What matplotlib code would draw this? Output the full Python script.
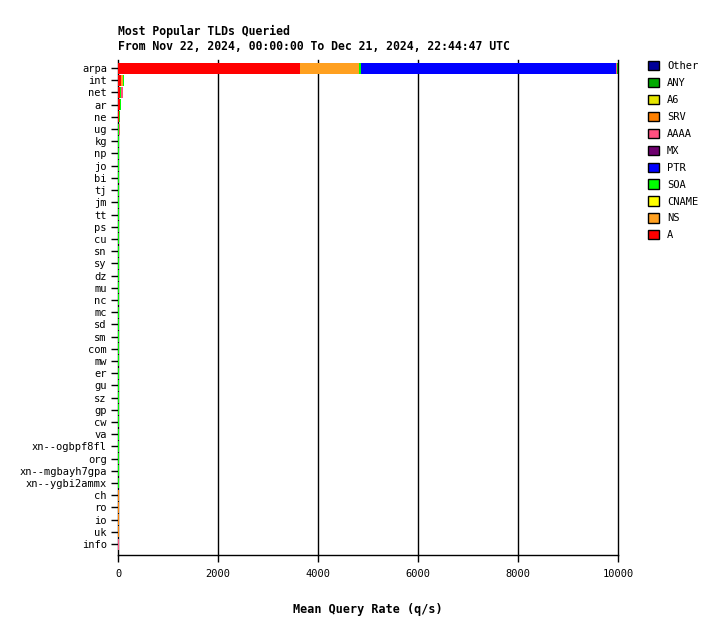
import numpy as np
import matplotlib
matplotlib.use("Agg")
import matplotlib.pyplot as plt
from matplotlib.patches import Patch

plt.rcParams["font.family"] = "DejaVu Sans Mono"

TLDS = ["arpa", "int", "net", "ar", "ne", "ug", "kg", "np", "jo", "bi", "tj", "jm",
        "tt", "ps", "cu", "sn", "sy", "dz", "mu", "nc", "mc", "sd", "sm", "com",
        "mw", "er", "gu", "sz", "gp", "cw", "va", "xn--ogbpf8fl", "org",
        "xn--mgbayh7gpa", "xn--ygbi2ammx", "ch", "ro", "io", "uk", "info"]

# query types in stacking order (legend shows them reversed)
QTYPES = ["A", "NS", "CNAME", "SOA", "PTR", "MX", "AAAA", "SRV", "A6", "ANY", "Other"]
COLORS = {"A": "#ff0000", "NS": "#ffa020", "CNAME": "#ffff00", "SOA": "#00ff00",
          "PTR": "#0000ff", "MX": "#6f006f", "AAAA": "#ff5080", "SRV": "#ff8000",
          "A6": "#e5e500", "ANY": "#00aa00", "Other": "#000099"}

n = len(TLDS)
A = [3640, 50, 40, 40, 20, 0] + [0] * (n - 6)
NS = [1186, 40, 0, 0, 0, 0] + [0] * (n - 6)
CNAME = [0, 10, 0, 0, 0, 0] + [0] * (n - 6)
SOA = [30, 20, 20, 20, 10, 10] + [15] * 29 + [0] * 5
PTR = [5100] + [0] * (n - 1)
MX = [0] * n
AAAA = [20, 0, 40, 0, 0, 20] + [0] * 33 + [10]
SRV = [0] * 35 + [10, 10, 10, 10, 0]
A6 = [0] * n
ANY = [20] + [0] * (n - 1)
OTHER = [0] * n

series = {"A": A, "NS": NS, "CNAME": CNAME, "SOA": SOA, "PTR": PTR, "MX": MX,
          "AAAA": AAAA, "SRV": SRV, "A6": A6, "ANY": ANY, "Other": OTHER}

fig = plt.figure(figsize=(7.2, 6.35), dpi=100)
ax = fig.add_axes([118 / 720, 1 - 555 / 635, 500 / 720, 495 / 635])

y = np.arange(n)
left = np.zeros(n)
for q in QTYPES:
    v = np.array(series[q], dtype=float)
    ax.barh(y, v, left=left, height=0.9, color=COLORS[q], linewidth=0)
    left += v

ax.set_xlim(0, 10000)
ax.set_ylim(n - 1 + 0.9, -0.66)
ax.set_yticks(y, TLDS, fontsize=7.5)
ax.set_xticks([0, 2000, 4000, 6000, 8000, 10000])
ax.tick_params(axis="x", labelsize=7.5, length=5, width=1, pad=5)
ax.tick_params(axis="y", length=5, width=1, pad=3)
ax.set_axisbelow(True)
ax.grid(axis="x", color="black", linewidth=1)
for gl in ax.get_xgridlines():
    gl.set_clip_on(False)
for s in ["top", "right", "left"]:
    ax.spines[s].set_visible(False)
ax.spines["bottom"].set_linewidth(1)

ax.set_xlabel("Mean Query Rate (q/s)", fontsize=8.5, fontweight="bold", labelpad=17)
fig.text(118 / 720, 1 - 31 / 635, "Most Popular TLDs Queried", fontsize=8.3,
         fontweight="bold", va="center", ha="left")
fig.text(118 / 720, 1 - 47 / 635, "From Nov 22, 2024, 00:00:00 To Dec 21, 2024, 22:44:47 UTC",
         fontsize=8.3, fontweight="bold", va="center", ha="left")

handles = [Patch(facecolor=COLORS[q], edgecolor="black", linewidth=1, label=q)
           for q in reversed(QTYPES)]
fig.legend(handles=handles, loc="upper left", bbox_to_anchor=(644 / 720, 1 - 57 / 635),
           frameon=False, fontsize=7.5, handlelength=1.0, handleheight=1.0,
           handletextpad=0.8, labelspacing=0.64, borderaxespad=0)

fig.savefig("out.png", dpi=100)
